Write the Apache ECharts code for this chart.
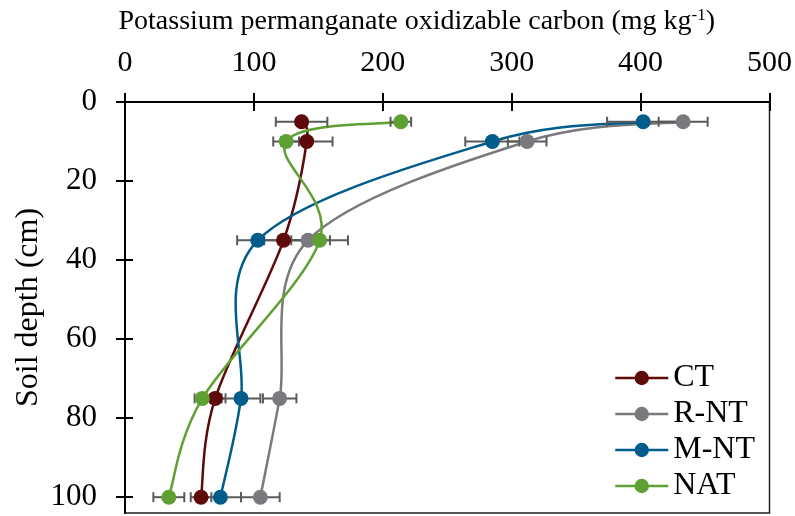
<!DOCTYPE html>
<html>
<head>
<meta charset="utf-8">
<script src="https://cdn.jsdelivr.net/npm/echarts@6/dist/echarts.min.js"></script>
<style>
html,body{margin:0;padding:0;background:#fff;}
#chart{width:795px;height:516px;}
</style>
</head>
<body>
<div id="chart"></div>
<script>
// Data
const depths = [5, 10, 35, 75, 100];
const seriesNames = ['CT', 'R-NT', 'M-NT', 'NAT'];
const ctValues = [137, 141, 123, 70, 59];
const rntValues = [433, 312, 142, 120, 105];
const mntValues = [402, 285, 103, 90, 74];
const natValues = [214, 125, 151, 60, 34];
const ctErr = [20, 20, 15, 8, 8];
const rntErr = [19, 15, 17, 13, 15];
const mntErr = [28, 21, 16, 15, 16];
const natErr = [8, 10, 22, 6, 12];
const xTicks = [0, 100, 200, 300, 400, 500];
const yTicks = [0, 20, 40, 60, 80, 100];

const colors = ['#5E0A0A', '#7A7A7E', '#005C8A', '#5FA033'];
const values = [ctValues, rntValues, mntValues, natValues];
const errs = [ctErr, rntErr, mntErr, natErr];
const FONT = 'Liberation Serif';

const chart = echarts.init(document.getElementById('chart'));

// Smoothed curves (Catmull-Rom style, like spreadsheet smoothing), via axis coords
const curveSeries = seriesNames.map((name, s) => ({
  type: 'custom',
  xAxisIndex: 0,
  yAxisIndex: 0,
  silent: true,
  z: 2,
  data: values[s].map((v, k) => [v, depths[k]]),
  encode: { x: 0, y: 1 },
  renderItem: function (params, api) {
    const i = params.dataIndex;
    const arr = values[s];
    const n = arr.length;
    if (i >= n - 1) return null;
    const P = k => api.coord([arr[Math.max(0, Math.min(n - 1, k))], depths[Math.max(0, Math.min(n - 1, k))]]);
    const p0 = P(i - 1), p1 = P(i), p2 = P(i + 1), p3 = P(i + 2);
    const t = 1 / 6;
    return {
      type: 'bezierCurve',
      shape: {
        x1: p1[0], y1: p1[1],
        cpx1: p1[0] + (p2[0] - p0[0]) * t, cpy1: p1[1] + (p2[1] - p0[1]) * t,
        cpx2: p2[0] - (p3[0] - p1[0]) * t, cpy2: p2[1] - (p3[1] - p1[1]) * t,
        x2: p2[0], y2: p2[1]
      },
      style: { stroke: colors[s], lineWidth: 2.5, fill: null }
    };
  }
}));

// Markers (and legend entries)
const markerSeries = seriesNames.map((name, i) => ({
  name: name,
  type: 'line',
  xAxisIndex: 0,
  yAxisIndex: 0,
  data: values[i].map((v, k) => [v, depths[k]]),
  symbol: 'circle',
  symbolSize: 15,
  lineStyle: { color: colors[i], width: 2.5, opacity: 0 },
  itemStyle: { color: colors[i] },
  z: 4
}));

const errData = [];
values.forEach((arr, i) => {
  arr.forEach((v, k) => errData.push([v, depths[k], errs[i][k]]));
});

const errSeries = {
  type: 'custom',
  xAxisIndex: 0,
  yAxisIndex: 0,
  data: errData,
  encode: { x: 0, y: 1 },
  z: 3,
  silent: true,
  renderItem: function (params, api) {
    const v = api.value(0), d = api.value(1), e = api.value(2);
    const a = api.coord([v - e, d]);
    const b = api.coord([v + e, d]);
    const h = 5;
    const style = { stroke: '#5A5A5A', lineWidth: 2 };
    return {
      type: 'group',
      children: [
        { type: 'line', shape: { x1: a[0], y1: a[1], x2: b[0], y2: b[1] }, style: style },
        { type: 'line', shape: { x1: a[0], y1: a[1] - h, x2: a[0], y2: a[1] + h }, style: style },
        { type: 'line', shape: { x1: b[0], y1: b[1] - h, x2: b[0], y2: b[1] + h }, style: style }
      ]
    };
  }
};

const axisLineStyle = { color: '#000', width: 2 };

chart.setOption({
  animation: false,
  backgroundColor: '#fff',
  textStyle: { fontFamily: FONT },
  grid: {
    left: 125, right: 24, top: 102, bottom: 3,
    show: true, borderColor: '#222', borderWidth: 1.5, backgroundColor: 'transparent'
  },
  legend: {
    orient: 'vertical',
    left: 609,
    top: 357,
    itemWidth: 53,
    itemHeight: 18,
    itemGap: 4,
    data: seriesNames,
    lineStyle: { width: 2.5, opacity: 1 },
    textStyle: { fontFamily: FONT, fontSize: 32, color: '#000' }
  },
  xAxis: [
    {
      type: 'value', position: 'top', min: 0, max: 500, interval: 100,
      name: 'Potassium permanganate oxidizable carbon (mg kg{sup|-1})',
      nameLocation: 'middle', nameGap: 66, nameMoveOverlap: false,
      nameTextStyle: {
        fontFamily: FONT, fontSize: 28, color: '#000', padding: [0, 61, 0, 0],
        rich: { sup: { fontFamily: FONT, fontSize: 17, color: '#000', verticalAlign: 'top', padding: [0, 0, 12, 0] } }
      },
      axisLine: { show: true, lineStyle: axisLineStyle },
      axisTick: { show: true, inside: false, length: 9, lineStyle: axisLineStyle, customValues: xTicks },
      axisLabel: { fontFamily: FONT, fontSize: 30, color: '#000', margin: 24, customValues: xTicks },
      splitLine: { show: false }
    },
    {
      type: 'value', position: 'top', min: 0, max: 500, interval: 100,
      axisLine: { show: false },
      axisTick: { show: true, inside: true, length: 9, lineStyle: axisLineStyle, customValues: xTicks },
      axisLabel: { show: false },
      splitLine: { show: false }
    }
  ],
  yAxis: [
    {
      type: 'value', inverse: true, min: 0, max: 104, interval: 20,
      name: 'Soil depth (cm)', nameLocation: 'middle', nameGap: 80, nameRotate: 90, nameMoveOverlap: false,
      nameTextStyle: { fontFamily: FONT, fontSize: 32, color: '#000' },
      axisLine: { show: true, lineStyle: axisLineStyle },
      axisTick: { show: true, inside: false, length: 9, lineStyle: axisLineStyle, customValues: yTicks },
      axisLabel: { fontFamily: FONT, fontSize: 31, color: '#000', margin: 28, customValues: yTicks },
      splitLine: { show: false }
    },
    {
      type: 'value', inverse: true, min: 0, max: 104, interval: 20, position: 'left',
      axisLine: { show: false },
      axisTick: { show: true, inside: true, length: 8, lineStyle: axisLineStyle, customValues: yTicks },
      axisLabel: { show: false },
      splitLine: { show: false }
    }
  ],
  series: curveSeries.concat([errSeries]).concat(markerSeries)
});
</script>
</body>
</html>
